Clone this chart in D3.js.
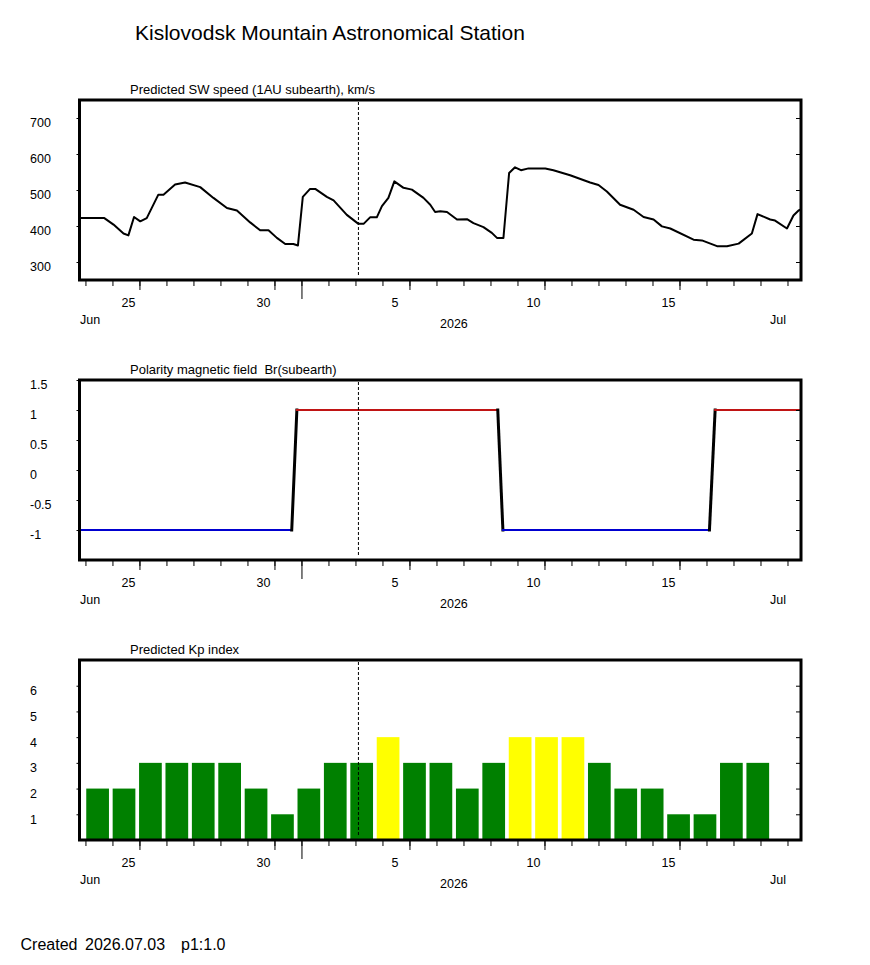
<!DOCTYPE html>
<html>
<head>
<meta charset="utf-8">
<script src="https://cdn.jsdelivr.net/npm/d3@7"></script>
<style>
  html, body { margin: 0; padding: 0; background: #fff; }
  svg { display: block; font-family: "Liberation Sans", Arial, sans-serif; }
  svg text { white-space: pre; }
</style>
</head>
<body>
<svg id="chart" width="870" height="965"></svg>
<script>
// ---- data (days counted from May 31: Jun 25 = 25, Jul 1 = 31) ----
const xDomain = [22.78, 49.5];
const nowDay = 33.11;

const swDay = [22.78,23.70,24.04,24.41,24.59,24.80,25.03,25.27,25.70,25.89,
  26.32,26.69,27.25,27.74,28.24,28.61,29.10,29.47,29.78,30.09,
  30.40,30.70,30.87,31.05,31.32,31.51,31.94,32.19,32.68,33.11,
  33.30,33.54,33.79,33.98,34.22,34.44,34.78,35.09,35.52,35.77,
  35.95,36.14,36.39,36.76,37.13,37.37,37.74,38.05,38.24,38.48,
  38.69,38.91,39.13,39.41,40.03,40.33,40.95,41.69,42.00,42.31,
  42.80,43.05,43.30,43.67,44.04,44.35,44.66,45.52,45.83,46.39,
  46.76,47.19,47.68,47.89,48.36,48.54,48.98,49.22,49.41,49.5];
const swSpeed = [422,422,404,379,374,425,413,422,487,487,
  515,521,508,478,450,443,410,388,388,367,
  350,350,346,481,503,503,481,471,431,406,
  406,424,424,455,478,524,506,501,478,459,
  439,441,439,418,419,408,397,381,367,367,
  547,563,555,560,560,555,541,521,514,496,
  459,452,445,425,418,399,393,362,360,344,
  344,351,379,433,418,415,393,429,443,446];

const polDay = [22.78, 30.64, 30.83, 38.27, 38.46, 46.11, 46.32, 49.5];
const polValue = [-1, -1, 1, 1, -1, -1, 1, 1];

const kpValues = [2,2,3,3,3,3,2,1,2,3,3,4,3,3,2,3,4,4,4,3,2,2,1,1,3,3];
const kpSpan = [23.03, 48.32];

const swTicks = [300, 400, 500, 600, 700];
const polTicks = [-1, -0.5, 0, 0.5, 1, 1.5];
const kpTicks = [1, 2, 3, 4, 5, 6];
const dayTicks = d3.range(23, 50);
const labelDays = [25, 30, 35, 40, 45];
const monthDays = [31];

// ---- layout ----
const svg = d3.select("#chart");
const L = 79.5, R = 801, H = 180;
const x = d3.scaleLinear().domain(xDomain).range([L, R]);
const dayLabel = d => d > 30 ? String(d - 30) : String(d);

svg.append("text").attr("x", 135).attr("y", 39.5)
  .attr("font-size", 21).text("Kislovodsk Mountain Astronomical Station");

function panel(top, title, yDomain, yTicks, yFmt) {
  const g = svg.append("g");
  const y = d3.scaleLinear().domain(yDomain).range([top + H, top]);
  g.append("text").attr("x", 130).attr("y", top - 6.5).attr("font-size", 13).text(title);
  const clipId = "clip" + top;
  svg.append("clipPath").attr("id", clipId).append("rect")
    .attr("x", L).attr("y", top).attr("width", R - L).attr("height", H);
  const inner = g.append("g").attr("clip-path", `url(#${clipId})`);
  // y axes
  const yl = g.append("g").attr("transform", `translate(${L},0)`)
    .call(d3.axisLeft(y).tickValues(yTicks).tickSize(3).tickFormat(""));
  const yr = g.append("g").attr("transform", `translate(${R},0)`)
    .call(d3.axisLeft(y).tickValues(yTicks).tickSize(5).tickFormat(""));
  [yl, yr].forEach(a => { a.select(".domain").remove(); a.selectAll("line").attr("stroke", "#000"); });
  g.selectAll(".ylab").data(yTicks).join("text")
    .attr("x", 30).attr("y", d => y(d) + 9.4)
    .attr("font-size", 12.5).text(yFmt);
  // x axes
  const bottom = top + H;
  const ax = (vals, len) => {
    const a = g.append("g").attr("transform", `translate(0,${bottom})`)
      .call(d3.axisBottom(x).tickValues(vals).tickSize(len).tickFormat(""));
    a.select(".domain").remove();
    a.selectAll("line").attr("stroke", "#000");
  };
  ax(dayTicks, 6);
  ax(labelDays, 10);
  ax(monthDays, 19);
  g.selectAll(".xlab").data(labelDays).join("text")
    .attr("x", d => x(d) - 18).attr("y", bottom + 26.5)
    .attr("font-size", 12.5).text(dayLabel);
  g.append("text").attr("x", 80).attr("y", bottom + 43.5).attr("font-size", 12.5).text("Jun");
  g.append("text").attr("x", 440).attr("y", bottom + 48).attr("font-size", 12.5).text("2026");
  g.append("text").attr("x", 770).attr("y", bottom + 43.5).attr("font-size", 12.5).text("Jul");
  return { g, inner, y, top, bottom };
}

function frame(p) {
  p.g.append("line").attr("x1", x(nowDay)).attr("x2", x(nowDay))
    .attr("y1", p.top + 2).attr("y2", p.bottom - 4)
    .attr("stroke", "#000").attr("stroke-width", 1).attr("stroke-dasharray", "3,2");
  p.g.append("rect").attr("x", L).attr("y", p.top).attr("width", R - L).attr("height", H)
    .attr("fill", "none").attr("stroke", "#000").attr("stroke-width", 3);
}

// Panel 1: SW speed
const p1 = panel(100, "Predicted SW speed (1AU subearth), km/s", [250, 750], swTicks, d => d);
p1.inner.append("path")
  .datum(swDay.map((d, i) => [d, swSpeed[i]]))
  .attr("fill", "none").attr("stroke", "#000").attr("stroke-width", 2)
  .attr("stroke-linejoin", "round")
  .attr("d", d3.line().x(d => x(d[0])).y(d => p1.y(d[1])));
frame(p1);

// Panel 2: polarity
const p2 = panel(380, "Polarity magnetic field  Br(subearth)", [-1.5, 1.5], polTicks, d => d);
const segs = d3.pairs(polDay.map((d, i) => [d, polValue[i]]));
p2.inner.selectAll(".seg").data(segs).join("line")
  .attr("x1", s => x(s[0][0])).attr("y1", s => p2.y(s[0][1]))
  .attr("x2", s => x(s[1][0])).attr("y2", s => p2.y(s[1][1]))
  .attr("stroke", s => s[0][1] !== s[1][1] ? "#000" : (s[0][1] > 0 ? "#c01414" : "#0000d0"))
  .attr("stroke-width", s => s[0][1] !== s[1][1] ? 3 : 2)
  .attr("stroke-linecap", "square");
frame(p2);

// Panel 3: Kp
const p3 = panel(660, "Predicted Kp index", [0, 7], kpTicks, d => d);
const band = d3.scaleBand().domain(d3.range(kpValues.length))
  .range([x(kpSpan[0]), x(kpSpan[1])]).paddingInner(0.14).paddingOuter(0);
p3.inner.selectAll(".bar").data(kpValues).join("rect")
  .attr("x", (d, i) => band(i)).attr("width", band.bandwidth())
  .attr("y", d => p3.y(d)).attr("height", d => p3.y(0) - p3.y(d))
  .attr("fill", d => d >= 4 ? "#ffff00" : "#008000");
frame(p3);

// footer
svg.append("text").attr("x", 20.5).attr("y", 949.5).attr("font-size", 16).text("Created");
svg.append("text").attr("x", 85).attr("y", 949.5).attr("font-size", 16).text("2026.07.03");
svg.append("text").attr("x", 181).attr("y", 949.5).attr("font-size", 16).text("p1:1.0");
</script>
</body>
</html>
